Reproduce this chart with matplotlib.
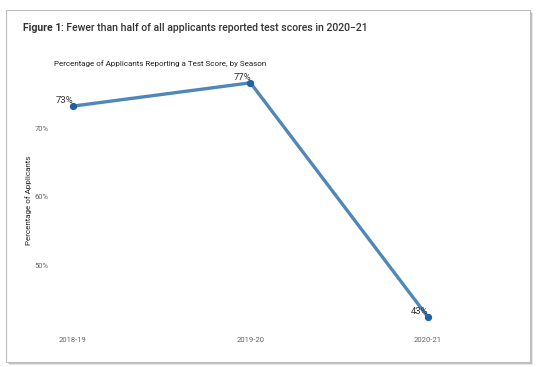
import matplotlib
matplotlib.use("Agg")
import matplotlib.pyplot as plt
from matplotlib.patches import Rectangle

plt.rcParams['font.family'] = ['Roboto', 'DejaVu Sans']

seasons = ['2018-19', '2019-20', '2020-21']
pct_reporting = [73.2, 76.6, 42.4]
point_labels = ['73%', '77%', '43%']
y_ticks = [50, 60, 70]

W, H = 537, 367
fig = plt.figure(figsize=(W / 100, H / 100), dpi=100)

# card background with a soft shadow
for off, alpha in [(3, 0.10), (2, 0.15), (1, 0.25)]:
    fig.patches.append(Rectangle(((6 + off) / W, (H - 362 - off) / H), 524 / W, 352 / H,
                                 transform=fig.transFigure, facecolor='#000000',
                                 alpha=alpha, edgecolor='none', zorder=0))
fig.patches.append(Rectangle((6 / W, (H - 362) / H), 524 / W, 352 / H,
                             transform=fig.transFigure, facecolor='white',
                             edgecolor='#bdbdbd', linewidth=0.8, zorder=1))

t1 = fig.text(23 / W, 1 - 28 / H, 'Figure 1', fontsize=7.6, fontweight='bold',
              color='#333333', va='center', ha='left', zorder=3)
fig.canvas.draw()
bb = t1.get_window_extent()
fig.text(bb.x1 / W, 1 - 28 / H, ': Fewer than half of all applicants reported test scores in 2020\u221221',
         fontsize=7.6, fontweight='medium', color='#333333', va='center', ha='left', zorder=3)
fig.text(54 / W, 1 - 64 / H, 'Percentage of Applicants Reporting a Test Score, by Season',
         fontsize=5.8, color='#222222', va='center', ha='left', zorder=3)

left, right, top, bottom = 60, 470, 75, 325
ax = fig.add_axes([left / W, 1 - bottom / H, (right - left) / W, (bottom - top) / H])
ax.set_facecolor('none')
ax.set_zorder(2)

x = list(range(len(seasons)))
ax.plot(x, pct_reporting, color='#4f87b9', linewidth=2.4, zorder=2)
ax.scatter(x, pct_reporting, s=18, color='#1f63a4', zorder=3)
for xi, yi, lab in zip(x, pct_reporting, point_labels):
    ax.annotate(lab, (xi, yi), xytext=(-6, 0.5), textcoords='offset points',
                ha='center', va='bottom', fontsize=6.8, color='#333333', zorder=4)

ax.set_xlim(-0.0732, 2.237)
ax.set_ylim(41.24, 77.74)
ax.set_xticks(x)
ax.set_xticklabels(seasons)
ax.set_yticks(y_ticks)
ax.set_yticklabels([f'{v}%' for v in y_ticks])
ax.tick_params(length=0, labelsize=5.5, labelcolor='#666666')
ax.tick_params(axis='x', pad=9)
ax.tick_params(axis='y', pad=8)
for s in ax.spines.values():
    s.set_visible(False)
ax.set_ylabel('Percentage of Applicants', fontsize=5.8, color='#222222')
ax.yaxis.set_label_coords(-0.068, 0.5)

fig.savefig('out.png', dpi=100)
